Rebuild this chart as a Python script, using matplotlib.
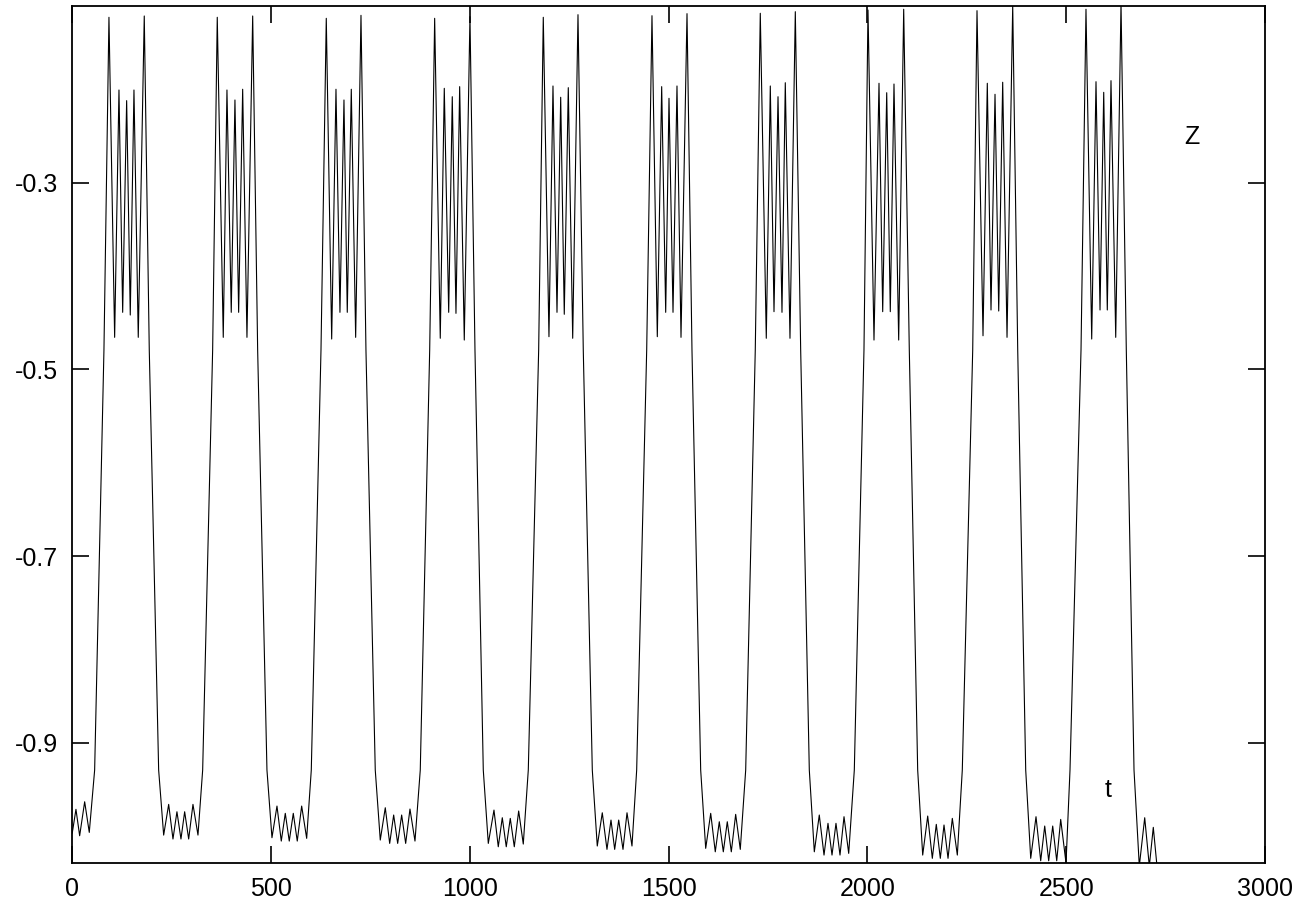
import matplotlib
matplotlib.use("Agg")
import matplotlib.pyplot as plt

matplotlib.rcParams["font.family"] = "Liberation Sans"

# time values, cycle by cycle (lower wiggles, rise, upper burst, fall)
time = [
    0, 9.3, 18.6, 31.2, 42.8, 56.3, 79.7,
    92.3, 106.6, 117.5, 126.8, 136.8, 145.9, 155.2, 166.0, 181.1, 193.7,
    217.3, 229.9, 242.5, 253.3, 263.3, 273.4, 282.7, 292.8, 303.6, 316.2, 328.0,
    353.1, 364.7, 379.8, 389.1, 399.9, 409.2, 418.5, 428.6, 439.4, 453.8, 466.3,
    489.7, 502.3, 514.9, 525.7, 535.8, 545.8, 555.9, 565.9, 577.0, 589.6, 601.2,
    625.6, 638.9, 652.5, 663.3, 673.3, 683.4, 691.7, 701.8, 712.8, 726.2, 738.7,
    762.1, 774.7, 787.3, 798.4, 808.4, 818.5, 828.5, 838.6, 849.4, 862.0, 875.3,
    899.0, 911.5, 925.6, 935.7, 946.8, 955.8, 965.1, 974.4, 986.0, 1000.3, 1012.9,
    1033.8, 1046.4, 1060.7, 1071.5, 1081.6, 1091.6, 1101.7, 1111.8, 1122.8, 1134.4, 1147.0,
    1173.1, 1184.7, 1199.0, 1209.1, 1219.2, 1228.5, 1237.5, 1247.6, 1258.7, 1272.0, 1285.3,
    1308.0, 1320.5, 1333.1, 1344.9, 1355.0, 1364.3, 1374.4, 1385.2, 1395.3, 1407.8, 1419.6,
    1444.8, 1458.1, 1471.5, 1482.5, 1492.6, 1500.9, 1511.0, 1521.0, 1531.1, 1546.2, 1558.7,
    1580.6, 1593.2, 1605.8, 1617.3, 1627.4, 1637.5, 1647.5, 1657.6, 1668.6, 1680.2, 1693.8,
    1717.9, 1730.5, 1745.6, 1755.7, 1765.0, 1775.1, 1785.1, 1793.4, 1805.2, 1818.6, 1832.1,
    1853.8, 1866.4, 1878.9, 1890.8, 1900.8, 1910.9, 1920.9, 1931.0, 1941.1, 1952.9, 1967.0,
    1991.3, 2001.4, 2016.5, 2029.1, 2038.4, 2048.5, 2057.5, 2066.8, 2078.6, 2091.2, 2105.3,
    2126.4, 2139.0, 2151.6, 2163.2, 2173.2, 2183.3, 2192.6, 2202.7, 2213.5, 2226.1, 2238.6,
    2264.8, 2275.6, 2290.7, 2301.5, 2310.8, 2320.9, 2330.2, 2340.2, 2351.1, 2365.4, 2378.0,
    2398.1, 2410.7, 2424.0, 2435.8, 2445.9, 2455.9, 2466.0, 2476.1, 2486.1, 2499.5, 2509.5,
    2537.2, 2549.7, 2564.1, 2574.9, 2585.0, 2594.3, 2603.3, 2612.6, 2624.5, 2637.8, 2651.1,
    2670.5, 2683.8, 2697.4, 2709.0, 2719.0, 2730.0,
]

z = [
    -0.9968, -0.9714, -0.9997, -0.9633, -0.9961, -0.9293, -0.4793,
    -0.1228, -0.4657, -0.2007, -0.4389, -0.2121, -0.4418, -0.2007, -0.4657, -0.1214, -0.4793,
    -0.9293, -0.9990, -0.9661, -1.0032, -0.9740, -1.0032, -0.9740, -1.0032, -0.9661, -0.9990, -0.9293,
    -0.4793, -0.1228, -0.4657, -0.2007, -0.4389, -0.2114, -0.4389, -0.1999, -0.4657, -0.1214, -0.4793,
    -0.9293, -1.0018, -0.9679, -1.0054, -0.9757, -1.0054, -0.9757, -1.0054, -0.9679, -1.0025, -0.9293,
    -0.4793, -0.1239, -0.4675, -0.1999, -0.4389, -0.2114, -0.4389, -0.1999, -0.4657, -0.1207, -0.4793,
    -0.9293, -1.0043, -0.9697, -1.0079, -0.9775, -1.0079, -0.9775, -1.0079, -0.9711, -1.0054, -0.9293,
    -0.4793, -0.1239, -0.4667, -0.1989, -0.4389, -0.2079, -0.4400, -0.1971, -0.4686, -0.1221, -0.4793,
    -0.9293, -1.0079, -0.9722, -1.0115, -0.9804, -1.0115, -0.9811, -1.0115, -0.9732, -1.0086, -0.9293,
    -0.4793, -0.1228, -0.4650, -0.1964, -0.4389, -0.2085, -0.4410, -0.1982, -0.4667, -0.1200, -0.4793,
    -0.9293, -1.0107, -0.9751, -1.0143, -0.9829, -1.0143, -0.9829, -1.0143, -0.9751, -1.0107, -0.9293,
    -0.4793, -0.1211, -0.4650, -0.1971, -0.4389, -0.2096, -0.4389, -0.1964, -0.4657, -0.1189, -0.4793,
    -0.9293, -1.0132, -0.9757, -1.0169, -0.9847, -1.0169, -0.9847, -1.0169, -0.9768, -1.0143, -0.9293,
    -0.4793, -0.1185, -0.4667, -0.1964, -0.4382, -0.2079, -0.4389, -0.1929, -0.4667, -0.1168, -0.4793,
    -0.9293, -1.0169, -0.9775, -1.0204, -0.9864, -1.0204, -0.9864, -1.0204, -0.9793, -1.0186, -0.9293,
    -0.4793, -0.1150, -0.4686, -0.1935, -0.4382, -0.2036, -0.4382, -0.1943, -0.4686, -0.1142, -0.4793,
    -0.9293, -1.0204, -0.9786, -1.0239, -0.9875, -1.0239, -0.9882, -1.0239, -0.9811, -1.0204, -0.9293,
    -0.4793, -0.1157, -0.4640, -0.1935, -0.4364, -0.2053, -0.4375, -0.1924, -0.4657, -0.1104, -0.4793,
    -0.9293, -1.0239, -0.9793, -1.0265, -0.9893, -1.0265, -0.9893, -1.0265, -0.9822, -1.0290, -0.9293,
    -0.4793, -0.1142, -0.4675, -0.1918, -0.4364, -0.2032, -0.4364, -0.1907, -0.4657, -0.1078, -0.4793,
    -0.9293, -1.0322, -0.9804, -1.0322, -0.9907, -1.0400,
]

x_ticks = [0, 500, 1000, 1500, 2000, 2500, 3000]
y_ticks = [-0.9, -0.7, -0.5, -0.3]

font_size = 18

fig = plt.figure(figsize=(13.09, 9.09), dpi=100)
ax = fig.add_axes([0.0552, 0.0503, 0.9112, 0.9431])

ax.plot(time, z, color="k", linewidth=0.8)

ax.set_xlim(0, 3000)
ax.set_ylim(-1.0292, -0.1107)
ax.set_xticks(x_ticks)
ax.set_yticks(y_ticks)
ax.set_xticklabels([str(v) for v in x_ticks])
ax.set_yticklabels([f"{v:.1f}" for v in y_ticks])

ax.tick_params(axis="both", which="major", direction="in", length=12, width=1.2,
               top=True, right=True, labelsize=font_size)
ax.tick_params(axis="x", pad=10)
ax.tick_params(axis="y", pad=10)
for s in ax.spines.values():
    s.set_linewidth(1.3)

ax.text(2816, -0.2511, "Z", fontsize=font_size, ha="center", va="center")
ax.text(2605, -0.9507, "t", fontsize=font_size, ha="center", va="center")

fig.savefig("out.png", dpi=100)
